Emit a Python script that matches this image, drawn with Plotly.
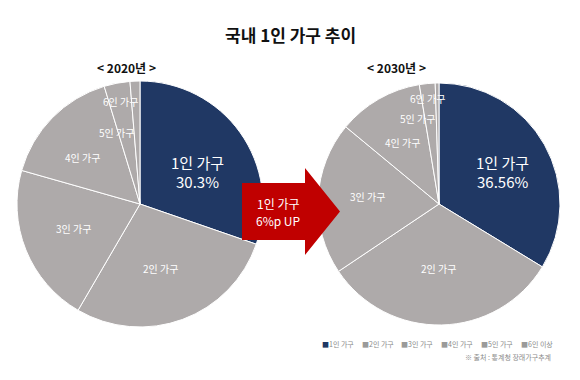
import plotly.graph_objects as go

# ---- data ----
categories = ["1인 가구", "2인 가구", "3인 가구", "4인 가구", "5인 가구", "6인 이상"]
slice_labels = ["1인 가구", "2인 가구", "3인 가구", "4인 가구", "5인 가구", "6인 가구"]
share_2020 = [30.3, 28.1, 21.0, 15.9, 3.4, 1.3]
share_2030 = [33.7, 31.9, 20.4, 11.4, 2.1, 0.5]
label_1in_2020 = "30.3%"
label_1in_2030 = "36.56%"
years = ["< 2020년 >", "< 2030년 >"]
arrow_lines = ["1인 가구", "6%p UP"]
title_text = "국내 1인 가구 추이"
source_text = "※ 출처 : 통계청 장래가구추계"

# ---- styling / layout ----
W, H = 580, 380
NAVY = "#203864"
GRAY = "#AEAAAA"
RED = "#C00000"
FONT = "Noto Sans CJK KR"
colors = [NAVY] + [GRAY] * 5


def px(x):
    return x / W


def py(y):
    return 1 - y / H


fig = go.Figure()

pie_geom = [(140, 204, 123), (439, 204, 121)]
for (cx, cy, r), vals in zip(pie_geom, [share_2020, share_2030]):
    fig.add_trace(go.Pie(
        labels=categories, values=vals, sort=False, direction="clockwise",
        rotation=0, marker=dict(colors=colors, line=dict(color="white", width=1)),
        textinfo="none", hoverinfo="label+percent", showlegend=False,
        domain=dict(x=[px(cx - r), px(cx + r)], y=[py(cy + r), py(cy - r)]),
    ))

ann = []


def add_text(text, x, y, size, color="white", bold=False, xanchor="center"):
    ann.append(dict(
        text=f"<b>{text}</b>" if bold else text, x=px(x), y=py(y),
        xref="paper", yref="paper", showarrow=False, xanchor=xanchor, yanchor="middle",
        font=dict(family=FONT, size=size, color=color),
    ))


# title & subtitles
add_text(title_text, 291, 35, 17, color="#111111", bold=True)
add_text(years[0], 126, 67, 12, color="#111111", bold=True)
add_text(years[1], 396, 67, 12, color="#111111", bold=True)

# slice labels
left_pos = [None, (160, 268), (73, 228), (82, 157), (117, 132), (120, 102)]
right_pos = [None, (438, 268), (367, 197), (402, 142), (417, 118), (427, 98)]
for lab, pos in zip(slice_labels, left_pos):
    if pos:
        add_text(lab, pos[0], pos[1], 10)
for lab, pos in zip(slice_labels, right_pos):
    if pos:
        add_text(lab, pos[0], pos[1], 10)

add_text(slice_labels[0], 197, 162, 15)
add_text(label_1in_2020, 197, 181, 15)
add_text(slice_labels[0], 502, 162, 15)
add_text(label_1in_2030, 502, 181, 15)

# arrow text
add_text(arrow_lines[0], 278, 203, 12)
add_text(arrow_lines[1], 278, 220, 12)

# custom legend
leg_x0 = 320
leg_step = 39.7
for i, cat in enumerate(categories):
    col = NAVY if i == 0 else "#9a9a9a"
    ann.append(dict(
        text=f"<span style='color:{col}'>■</span>{cat}",
        x=px(leg_x0 + i * leg_step), y=py(344), xref="paper", yref="paper",
        showarrow=False, xanchor="left", yanchor="middle",
        font=dict(family=FONT, size=7, color="#8a8a8a"),
    ))
add_text(source_text, 553, 357, 7, color="#8a8a8a", xanchor="right")

# arrow shape
pts = [(242, 183), (305, 183), (305, 168), (340, 211.5), (305, 255), (305, 240), (242, 240)]
path = "M " + " L ".join(f"{px(x):.5f},{py(y):.5f}" for x, y in pts) + " Z"

fig.update_layout(
    width=W, height=H, margin=dict(l=0, r=0, t=0, b=0),
    paper_bgcolor="white", plot_bgcolor="white",
    annotations=ann,
    shapes=[dict(type="path", path=path, xref="paper", yref="paper",
                 fillcolor=RED, line=dict(width=0), layer="above")],
)

fig.write_html("out.html", config={"displayModeBar": False},
               post_script="document.body.style.margin='0';")
